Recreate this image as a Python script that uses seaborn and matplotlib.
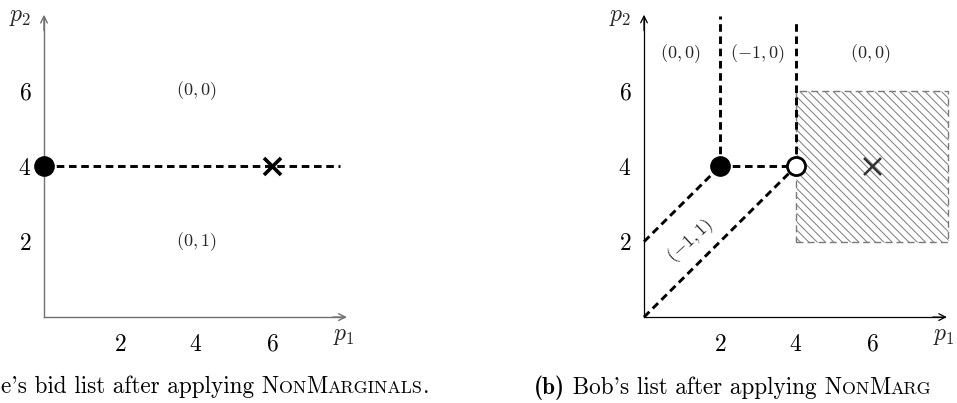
import matplotlib
matplotlib.use('Agg')
import matplotlib.pyplot as plt
import seaborn as sns
import pandas as pd
from matplotlib.patches import Rectangle

# ---- data ----
ticks = [2, 4, 6]
tick_labels = ['$2$', '$4$', '$6$']

# left panel (a)
a_line_x = [0, 7.8]
a_line_y = [4, 4]
a_bid = (0, 4)
a_true = (6, 4)
a_regions = ['$(0,0)$', '$(0,1)$']
a_region_x = [4, 4]
a_region_y = [6, 2]

# right panel (b)
b_segments = [
    ([2, 4], [4, 4]),
    ([2, 2], [4, 8.0]),
    ([4, 4], [4, 7.85]),
    ([0, 2], [2, 4]),
    ([0, 4], [0, 4]),
]
b_bid = (2, 4)
b_open = (4, 4)
b_true = (6, 4)
b_box = (4, 2, 8, 6)  # x0, y0, x1, y1
b_regions = ['$(0,0)$', '$(-1,0)$', '$(0,0)$']
b_region_x = [0.95, 2.97, 5.95]
b_region_y = [7.0, 7.0, 7.0]
b_diag_label = '$(-1,1)$'
b_diag_pos = (1.21, 2.02)

sns.set_theme(style='white')
plt.rcParams['mathtext.fontset'] = 'cm'
plt.rcParams['font.family'] = ['cmr10', 'DejaVu Serif']
plt.rcParams['axes.unicode_minus'] = False
plt.rcParams['hatch.linewidth'] = 0.7

fig = plt.figure(figsize=(9.57, 4.03), dpi=100)
ax_a = fig.add_axes([6 / 957, 0.129, 361 / 957, 0.8606])
ax_b = fig.add_axes([606 / 957, 0.129, 361 / 957, 0.8606])

DASH = (2.6, 1.6)


def setup_axes(ax, color, lw):
    ax.set_xlim(-1.0, 8.5)
    ax.set_ylim(-0.9, 8.3)
    ax.set_facecolor('none')
    for s in ['top', 'right']:
        ax.spines[s].set_visible(False)
    for s in ['left', 'bottom']:
        ax.spines[s].set_position(('data', 0))
        ax.spines[s].set_color(color)
        ax.spines[s].set_linewidth(lw)
    ax.spines['bottom'].set_bounds(0, 7.9)
    ax.spines['left'].set_bounds(0, 7.95)
    ax.annotate('', xy=(7.97, 0), xytext=(7.6, 0),
                arrowprops=dict(arrowstyle='->', color=color, lw=lw, shrinkA=0, shrinkB=0))
    ax.annotate('', xy=(0, 8.02), xytext=(0, 7.6),
                arrowprops=dict(arrowstyle='->', color=color, lw=lw, shrinkA=0, shrinkB=0))
    ax.set_xticks(ticks)
    ax.set_yticks(ticks)
    ax.set_xticklabels(tick_labels)
    ax.set_yticklabels(tick_labels)
    ax.tick_params(axis='both', direction='inout', length=6, width=lw, color=color,
                   labelsize=17, labelcolor='black')
    ax.tick_params(axis='x', pad=9)
    ax.tick_params(axis='y', pad=6)
    ax.set_xlabel('')
    ax.set_ylabel('')
    ax.text(-0.62, 7.96, '$p_2$', fontsize=17, ha='center', va='center')
    ax.text(7.9, -0.5, '$p_1$', fontsize=17, ha='center', va='center')


def dashed(ax, xs, ys):
    sns.lineplot(x=xs, y=ys, ax=ax, color='black', lw=2.1, estimator=None,
                 sort=False, dashes=DASH, zorder=3)


# ---- panel (a) ----
setup_axes(ax_a, '#707070', 1.0)
dashed(ax_a, a_line_x, a_line_y)
sns.scatterplot(x=[a_bid[0]], y=[a_bid[1]], ax=ax_a, color='black', s=190,
                marker='o', edgecolor='black', zorder=5, clip_on=False)
sns.scatterplot(x=[a_true[0]], y=[a_true[1]], ax=ax_a, color='black', s=150,
                marker='x', linewidth=2.6, zorder=5)
for lab, x, y in zip(a_regions, a_region_x, a_region_y):
    ax_a.text(x, y, lab, fontsize=13, ha='center', va='center')

# ---- panel (b) ----
setup_axes(ax_b, 'black', 0.9)
x0, y0, x1, y1 = b_box
ax_b.add_patch(Rectangle((x0, y0), x1 - x0, y1 - y0, facecolor='none',
                         edgecolor='#7a7a7a', hatch='\\\\\\\\', lw=1.0,
                         linestyle=(0, (5, 3)), zorder=1))
for xs, ys in b_segments:
    dashed(ax_b, xs, ys)
sns.scatterplot(x=[b_bid[0]], y=[b_bid[1]], ax=ax_b, color='black', s=190,
                marker='o', edgecolor='black', zorder=5)
sns.scatterplot(x=[b_open[0]], y=[b_open[1]], ax=ax_b, color='white', s=170,
                marker='o', edgecolor='black', linewidth=2.0, zorder=5)
sns.scatterplot(x=[b_true[0]], y=[b_true[1]], ax=ax_b, color='#333333', s=150,
                marker='x', linewidth=1.8, zorder=5)
for lab, x, y in zip(b_regions, b_region_x, b_region_y):
    ax_b.text(x, y, lab, fontsize=13, ha='center', va='center')
ax_b.text(b_diag_pos[0], b_diag_pos[1], b_diag_label, fontsize=13, ha='center',
          va='center', rotation=43, rotation_mode='anchor')


# ---- captions with small caps ----
def caption(x_px, y_px, pieces):
    renderer = fig.canvas.get_renderer()
    x = x_px / 957
    for s, size, fam in pieces:
        t = fig.text(x, (403 - y_px) / 403, s, fontsize=size,
                     family=[fam, 'DejaVu Serif'],
                     ha='left', va='baseline', color='black')
        w = t.get_window_extent(renderer).width
        x += w / 957


BIG, SMALL = 16.7, 12.9
caption(1, 393, [
    ("e's bid list after applying", BIG, 'cmr10'),
    (' N', BIG, 'cmr10'), ('ON', SMALL, 'cmr10'),
    ('M', BIG, 'cmr10'), ('ARGINALS', SMALL, 'cmr10'), ('.', BIG, 'cmr10'),
])
caption(534, 394, [
    ('(b)', BIG, 'cmb10'),
    (" Bob's list after applying", BIG, 'cmr10'),
    (' N', BIG, 'cmr10'), ('ON', SMALL, 'cmr10'),
    ('M', BIG, 'cmr10'), ('ARG', SMALL, 'cmr10'),
])

fig.savefig('out.png', dpi=100)
